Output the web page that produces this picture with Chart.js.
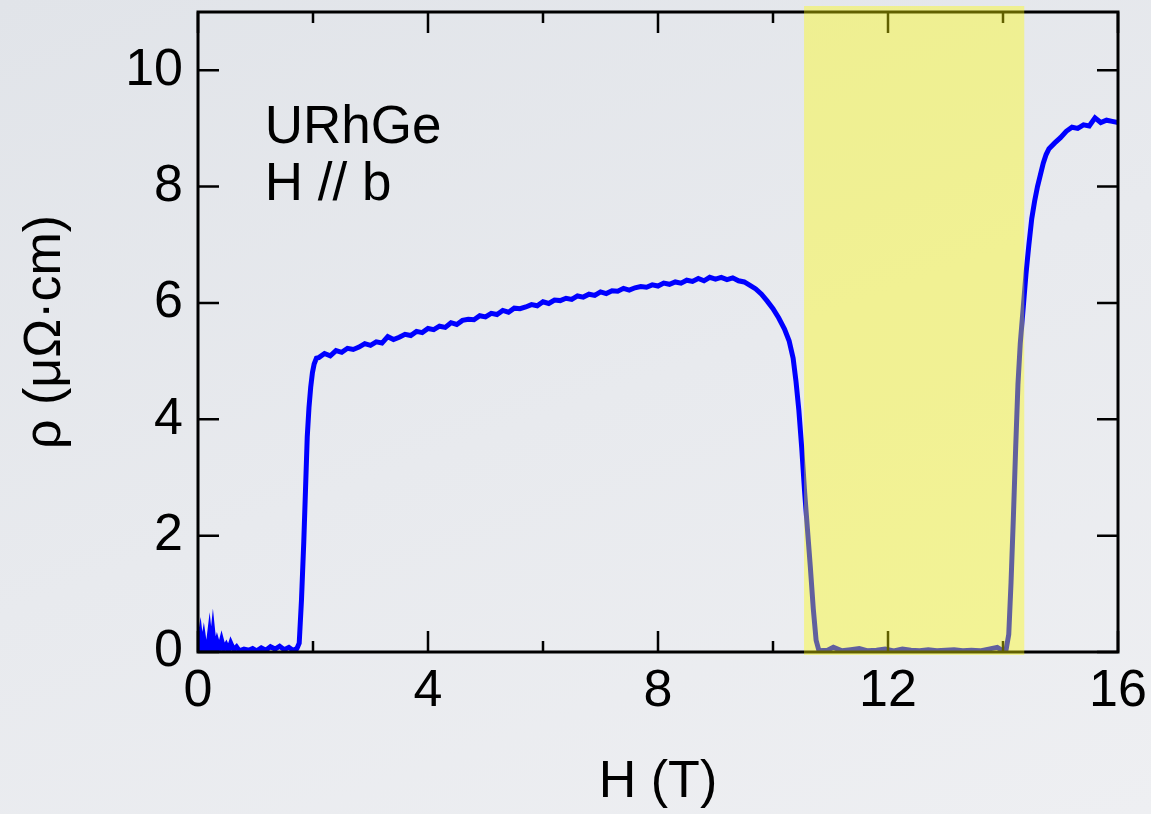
<!DOCTYPE html>
<html>
<head>
<meta charset="utf-8">
<script src="https://cdn.jsdelivr.net/npm/chart.js@4"></script>
<style>
  html, body { margin: 0; padding: 0; }
  body { width: 1151px; height: 814px; background: linear-gradient(160deg, #e1e4e9 0%, #e8eaee 50%, #eeeff2 100%); }
  #wrap { width: 1151px; height: 814px; position: relative; }
</style>
</head>
<body>
<div id="wrap"><canvas id="container"></canvas></div>
<script>
// magnetic field (T)
const fieldT = [
  0, 0.04, 0.07, 0.1, 0.13, 0.17, 0.2, 0.23, 0.26, 0.29, 0.33, 0.37, 0.41, 0.45, 0.49, 0.53, 0.57, 0.62, 0.67, 0.72,
  0.8, 0.88, 0.95, 1.02, 1.1, 1.18, 1.26, 1.34, 1.42, 1.5, 1.58, 1.65, 1.72,
  1.76, 1.8, 1.84, 1.87, 1.9, 1.93, 1.96, 1.99, 2.02, 2.06,
  2.1, 2.2, 2.3, 2.4, 2.5, 2.6, 2.7, 2.8, 2.9, 3.0, 3.1, 3.2, 3.3, 3.4, 3.5, 3.6, 3.7, 3.8, 3.9,
  4.0, 4.1, 4.2, 4.3, 4.4, 4.5, 4.6, 4.7, 4.8, 4.9, 5.0, 5.1, 5.2, 5.3, 5.4, 5.5, 5.6, 5.7, 5.8, 5.9,
  6.0, 6.1, 6.2, 6.3, 6.4, 6.5, 6.6, 6.7, 6.8, 6.9, 7.0, 7.1, 7.2, 7.3, 7.4, 7.5, 7.6, 7.7, 7.8, 7.9,
  8.0, 8.1, 8.2, 8.3, 8.4, 8.5, 8.6, 8.7, 8.8, 8.9, 9.0, 9.1, 9.2, 9.3, 9.4, 9.5, 9.6, 9.7,
  9.8, 9.9, 10.0, 10.1, 10.2, 10.28, 10.35, 10.4, 10.45, 10.5, 10.55, 10.6, 10.65, 10.7, 10.75, 10.8,
  10.95, 11.05, 11.2, 11.35, 11.5, 11.65, 11.8, 11.95, 12.1, 12.25, 12.4, 12.55, 12.7, 12.85, 13.0,
  13.15, 13.3, 13.45, 13.6, 13.75, 13.9, 14.0, 14.05,
  14.1, 14.14, 14.18, 14.22, 14.26, 14.3, 14.35, 14.4, 14.45, 14.5, 14.55, 14.6, 14.65, 14.7, 14.75, 14.8,
  14.9, 15.0, 15.1, 15.2, 15.3, 15.4, 15.5, 15.6, 15.7, 15.8, 15.9, 16.0
];

// resistivity (µΩ·cm)
const rhoMicro = [
  0.02, 0.28, 0.03, 0.22, 0.01, 0.05, 0.3, 0.02, 0.32, 0.03, 0.18, 0.04, 0.2, 0.05, 0.12, 0.03, 0.15, 0.04, 0.09, 0.02,
  0.05, 0.03, 0.06, 0.02, 0.07, 0.03, 0.09, 0.05, 0.1, 0.04, 0.08, 0.03, 0.06,
  0.15, 0.9, 1.9, 2.8, 3.7, 4.2, 4.55, 4.8, 4.95, 5.05,
  5.06, 5.13, 5.09, 5.18, 5.15, 5.22, 5.2, 5.24, 5.3, 5.27, 5.33, 5.31, 5.42, 5.37, 5.41, 5.46, 5.44, 5.51, 5.49,
  5.56, 5.54, 5.6, 5.58, 5.66, 5.63, 5.7, 5.72, 5.71, 5.78, 5.76, 5.82, 5.8, 5.87, 5.84, 5.91, 5.9, 5.93, 5.97, 5.95,
  6.02, 5.99, 6.05, 6.04, 6.08, 6.06, 6.12, 6.1, 6.15, 6.13, 6.19, 6.16, 6.21, 6.2, 6.25, 6.22, 6.26, 6.28, 6.27, 6.31,
  6.29, 6.34, 6.32, 6.36, 6.34, 6.39, 6.37, 6.42, 6.38, 6.44, 6.41, 6.44, 6.4, 6.43, 6.38, 6.36, 6.3, 6.24,
  6.15, 6.03, 5.9, 5.74, 5.55, 5.35, 5.05, 4.65, 4.15, 3.5, 2.75, 2.1, 1.45, 0.75, 0.2, 0.02,
  0.03, 0.08, 0.02, 0.04, 0.06, 0.02, 0.03, 0.05, 0.02, 0.05, 0.03, 0.02, 0.04, 0.02, 0.03,
  0.04, 0.02, 0.03, 0.02, 0.05, 0.08, 0.02, 0.02,
  0.3, 1.2, 2.3, 3.5, 4.6, 5.3, 5.9, 6.5, 7.0, 7.45, 7.75, 8.0, 8.2, 8.4, 8.55, 8.65,
  8.75, 8.84, 8.95, 9.02, 9.0, 9.06, 9.04, 9.18, 9.1, 9.14, 9.12, 9.1
];

// field range of the highlighted superconducting region (T)
const bandRange = [10.54, 14.37];
const xTicks = [0, 4, 8, 12, 16];
const xMinorTicks = [2, 6, 10, 14];
const yTicks = [0, 2, 4, 6, 8, 10];
const sampleLabel = ['URhGe', 'H // b'];

const FONT = '"Liberation Sans", Arial, Helvetica, sans-serif';

const framePlugin = {
  id: 'frame',
  afterDraw(chart) {
    const { ctx, chartArea: a, scales: { x, y } } = chart;
    ctx.save();
    ctx.strokeStyle = '#000';
    ctx.lineWidth = 3;
    ctx.strokeRect(a.left, a.top, a.right - a.left, a.bottom - a.top);

    // inward ticks on all four sides
    ctx.lineWidth = 2.5;
    ctx.beginPath();
    xTicks.concat(xMinorTicks).forEach(v => {
      const px = x.getPixelForValue(v);
      const len = xTicks.includes(v) ? 21 : 11;
      ctx.moveTo(px, a.bottom); ctx.lineTo(px, a.bottom - len);
      ctx.moveTo(px, a.top); ctx.lineTo(px, a.top + len);
    });
    yTicks.forEach(v => {
      const py = y.getPixelForValue(v);
      ctx.moveTo(a.left, py); ctx.lineTo(a.left + 21, py);
      ctx.moveTo(a.right, py); ctx.lineTo(a.right - 21, py);
    });
    ctx.stroke();

    // sample label
    ctx.fillStyle = '#000';
    ctx.font = '53px ' + FONT;
    ctx.textBaseline = 'alphabetic';
    ctx.textAlign = 'left';
    const lx = x.getPixelForValue(1.16);
    ctx.fillText(sampleLabel[0], lx, y.getPixelForValue(8.75));
    ctx.fillText(sampleLabel[1], lx, y.getPixelForValue(7.77));

    // yellow band laid over everything
    const b0 = x.getPixelForValue(bandRange[0]);
    const b1 = x.getPixelForValue(bandRange[1]);
    ctx.fillStyle = 'rgba(255, 252, 0, 0.38)';
    ctx.fillRect(b0, a.top - 6, b1 - b0, a.bottom - a.top + 9);
    ctx.restore();
  }
};

new Chart(document.getElementById('container'), {
  type: 'line',
  data: {
    datasets: [{
      label: 'rho',
      data: fieldT.map((h, i) => ({ x: h, y: rhoMicro[i] })),
      borderColor: '#0000ff',
      borderWidth: 5,
      pointRadius: 0,
      tension: 0,
      fill: false
    }]
  },
  options: {
    responsive: true,
    maintainAspectRatio: false,
    animation: false,
    layout: { padding: { top: 12, right: 33, bottom: 0, left: 0 } },
    plugins: { legend: { display: false }, tooltip: { enabled: false } },
    scales: {
      x: {
        type: 'linear',
        min: 0, max: 16,
        afterFit: s => { s.height = 162; s.paddingLeft = 0; s.paddingRight = 0; },
        afterBuildTicks: s => { s.ticks = xTicks.map(v => ({ value: v })); },
        grid: { display: false, drawTicks: false },
        border: { display: false },
        ticks: { color: '#000', padding: 8, maxRotation: 0, font: { family: FONT, size: 52 } },
        title: { display: true, text: 'H (T)', color: '#000', padding: 0, font: { family: FONT, size: 52 } }
      },
      y: {
        type: 'linear',
        min: 0, max: 11,
        afterFit: s => { s.width = 198; s.paddingTop = 0; s.paddingBottom = 0; },
        afterBuildTicks: s => { s.ticks = yTicks.map(v => ({ value: v })); },
        grid: { display: false, drawTicks: false },
        border: { display: false },
        ticks: { color: '#000', padding: 15, font: { family: FONT, size: 52 } },
        title: { display: true, text: 'ρ (μΩ·cm)', color: '#000', padding: { top: 14 }, font: { family: FONT, size: 52 } }
      }
    }
  },
  plugins: [framePlugin]
});
</script>
</body>
</html>
